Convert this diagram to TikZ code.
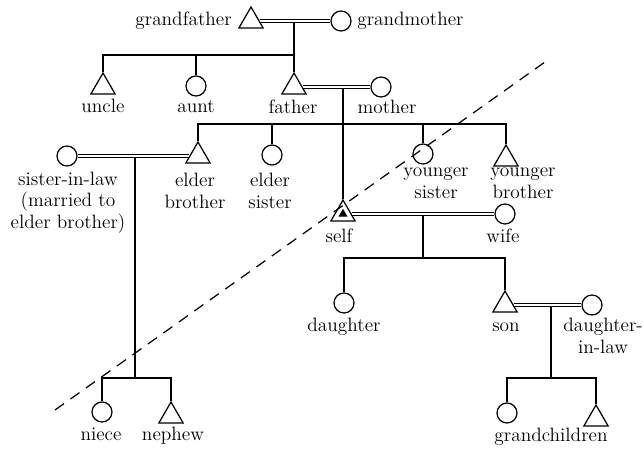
\documentclass[tikz,border=0pt]{standalone}
\usepackage{tikz}
\usetikzlibrary{shapes.geometric}
\tikzset{
    kin/.style={line width=0.7pt},
    male/.style={regular polygon, regular polygon sides=3, draw, line width=0.7pt,
        inner sep=0pt, minimum size=0.56cm},
    female/.style={circle, draw, line width=0.7pt, inner sep=0pt, minimum size=0.4cm},
    marriage/.style={double, double distance=0.9pt, line width=0.7pt},
    kinlabel/.style={align=center, inner sep=0pt, anchor=base,
        font=\fontsize{11}{12}\selectfont},
}

\begin{document}
\begin{tikzpicture}[x=0.02cm, y=-0.02cm]
    \useasboundingbox (0,0) rectangle (643,450);
    % line between generations
    \coordinate (dashlow) at (55,410);
    \coordinate (dashhigh) at (545,62);
    \draw[kin, dash pattern=on 0.22cm off 0.16cm] (dashlow) -- (dashhigh);

    % grandparents
    \node[male] (gfather) at (251,21) {};
    \node[female] (gmother) at (341,21) {};
    \node[kinlabel, anchor=base east] (gfatherL) at (232,25) {grandfather};
    \node[kinlabel, anchor=base west] (gmotherL) at (357,25) {grandmother};
    \coordinate (gpjoin) at (294,21);
    \coordinate (gpbar) at (294,55);

    % parents' generation
    \node[male] (uncle) at (103,87) {};
    \node[female] (aunt) at (196,86) {};
    \node[male] (father) at (294,87) {};
    \node[female] (mother) at (381,87) {};
    \node[kinlabel] (uncleL) at (103,112) {uncle};
    \node[kinlabel] (auntL) at (196,112) {aunt};
    \node[kinlabel] (fatherL) at (293,113) {father};
    \node[kinlabel] (motherL) at (387,113) {mother};
    \draw[kin] (gpjoin) -- (father.north);
    \draw[kin] (uncle.north) |- (gpbar);
    \draw[kin] (aunt.north) -- (aunt.north |- gpbar);
    \draw[marriage] (gfather.east) -- (gmother.west);
    \coordinate (fmjoin) at (343,87);
    \coordinate (sibbar) at (343,124);

    % own generation
    \node[female] (sinlaw) at (67,156) {};
    \node[male] (ebrother) at (198,156) {};
    \node[female] (esister) at (272,155) {};
    \node[female] (ysister) at (423,154) {};
    \node[male] (ybrother) at (506,159) {};
    \node[male] (self) at (343,214) {};
    \node[male, fill, minimum size=0.16cm] (selfcore) at (self.center) {};
    \node[female] (wife) at (505,214) {};
    \node[kinlabel] (sinlawL) at (68,228) {sister-in-law\\(married to\\elder brother)};
    \node[kinlabel] (ebrotherL) at (195,208) {elder\\brother};
    \node[kinlabel] (esisterL) at (270,208) {elder\\sister};
    \node[kinlabel] (ysisterL) at (436,198) {younger\\sister};
    \node[kinlabel] (ybrotherL) at (523,198) {younger\\brother};
    \node[kinlabel] (selfL) at (339,242) {self};
    \node[kinlabel] (wifeL) at (503,242) {wife};
    \draw[kin] (fmjoin) -- (self.north);
    \draw[kin] (ebrother.north) |- (sibbar) -| (ybrother.north);
    \draw[kin] (esister.north) -- (esister.north |- sibbar);
    \draw[kin] (ysister.north) -- (ysister.north |- sibbar);
    \draw[marriage] (father.east) -- (mother.west);
    \coordinate (ebjoin) at (135,156);
    \coordinate (nbar) at (135,378);
    \coordinate (swjoin) at (423,214);
    \coordinate (cbar) at (423,258);

    % children
    \node[female] (niece) at (102,412) {};
    \node[male] (nephew) at (171,416) {};
    \node[female] (daughter) at (344,303) {};
    \node[male] (son) at (505,305) {};
    \node[female] (dinlaw) at (592,305) {};
    \node[kinlabel] (nieceL) at (101,440) {niece};
    \node[kinlabel] (nephewL) at (173,440) {nephew};
    \node[kinlabel] (daughterL) at (344,331) {daughter};
    \node[kinlabel] (sonL) at (506,331) {son};
    \node[kinlabel] (dinlawL) at (603,353) {daughter-\\in-law};
    \draw[kin] (ebjoin) -- (nbar);
    \draw[kin] (niece.north) |- (nbar) -| (nephew.north);
    \draw[kin] (swjoin) -- (cbar);
    \draw[kin] (daughter.north) |- (cbar) -| (son.north);
    \draw[marriage] (sinlaw.east) -- (ebrother.west);
    \draw[marriage] (self.east) -- (wife.west);
    \coordinate (sdjoin) at (551,305);
    \coordinate (gcbar) at (551,378);

    % grandchildren
    \node[female] (gchildf) at (507,413) {};
    \node[male] (gchildm) at (596,419) {};
    \node[kinlabel] (gchildL) at (551,441) {grandchildren};
    \draw[kin] (sdjoin) -- (gcbar);
    \draw[kin] (gchildf.north) |- (gcbar) -| (gchildm.north);
    \draw[marriage] (son.east) -- (dinlaw.west);
\end{tikzpicture}
\end{document}
